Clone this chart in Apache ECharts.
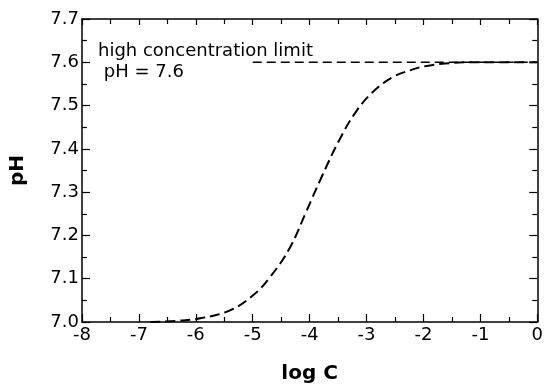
<!DOCTYPE html>
<html>
<head>
<meta charset="utf-8">
<script src="https://cdn.jsdelivr.net/npm/echarts@6/dist/echarts.min.js"></script>
<style>
  html, body { margin: 0; padding: 0; background: #fff; }
  #chart { width: 546px; height: 389px; }
</style>
</head>
<body>
<div id="chart"></div>
<script>
;(function() {
  'use strict'

  //------------------- Data -------------------//
  var logC = [-6.8, -6.3, -5.9, -5.4, -5.0, -4.7, -4.35, -4.06, -3.8, -3.48, -3.19, -2.9, -2.55, -2.2, -1.97, -1.62, -1.16, -0.5, 0]
  var pH = [7.0, 7.003, 7.009, 7.027, 7.061, 7.103, 7.171, 7.255, 7.332, 7.42, 7.485, 7.53, 7.565, 7.583, 7.591, 7.597, 7.6, 7.6, 7.6]
  var limitX = [-5, 0]
  var limitY = [7.6, 7.6]
  var limitText = ['high concentration limit', ' pH = 7.6']

  var font = 'DejaVu Sans'
  var black = '#000'

  function zip(xs, ys) {
    return xs.map((x, i) => [x, ys[i]])
  }

  function frameAxis(extra) {
    return Object.assign(
      {
        type: 'value',
        axisLine: { show: true, onZero: false, lineStyle: { color: black, width: 1.5 } },
        axisTick: { show: true, inside: true, length: 8, lineStyle: { color: black, width: 1.2 } },
        minorTick: { show: true, splitNumber: 2, length: 5, lineStyle: { color: black, width: 1.2 } },
        splitLine: { show: false },
        minorSplitLine: { show: false },
        axisLabel: { show: false },
      },
      extra
    )
  }

  var tickLabel = { show: true, color: black, fontFamily: font, fontSize: 18 }

  var option = {
    animation: false,
    backgroundColor: '#fff',
    grid: { left: 80, right: 6, top: 19, bottom: 64 },
    xAxis: [
      frameAxis({
        position: 'bottom',
        min: -8,
        max: 0,
        interval: 1,
        axisLabel: Object.assign({ margin: 4 }, tickLabel),
        name: 'log C',
        nameLocation: 'middle',
        nameGap: 42,
        nameTextStyle: { color: black, fontFamily: font, fontSize: 20, fontWeight: 'bold' },
      }),
      frameAxis({ position: 'top', min: -8, max: 0, interval: 1, axisTick: { show: true, inside: true, length: 6, lineStyle: { color: black, width: 1.2 } } }),
    ],
    yAxis: [
      frameAxis({
        position: 'left',
        min: 7.0,
        max: 7.7,
        interval: 0.1,
        axisLabel: Object.assign({ margin: 3, formatter: v => v.toFixed(1) }, tickLabel),
        name: 'pH',
        nameLocation: 'middle',
        nameRotate: 90,
        nameGap: 54,
        nameTextStyle: { color: black, fontFamily: font, fontSize: 20, fontWeight: 'bold' },
      }),
      frameAxis({ position: 'right', min: 7.0, max: 7.7, interval: 0.1 }),
    ],
    series: [
      {
        type: 'line',
        data: zip(logC, pH),
        smooth: 0.4,
        symbol: 'none',
        lineStyle: { color: black, width: 2, type: [10, 5] },
      },
      {
        type: 'line',
        data: zip(limitX, limitY),
        symbol: 'none',
        lineStyle: { color: black, width: 1.5, type: [9, 5] },
      },
    ],
    graphic: [
      { type: 'text', left: 98, top: 42, style: { text: limitText[0], fill: black, font: '18px "DejaVu Sans"' } },
      { type: 'text', left: 98, top: 63, style: { text: limitText[1], fill: black, font: '18px "DejaVu Sans"' } },
    ],
  }

  var chart = echarts.init(document.getElementById('chart'), null, { renderer: 'canvas' })
  chart.setOption(option)
})()
</script>
</body>
</html>
